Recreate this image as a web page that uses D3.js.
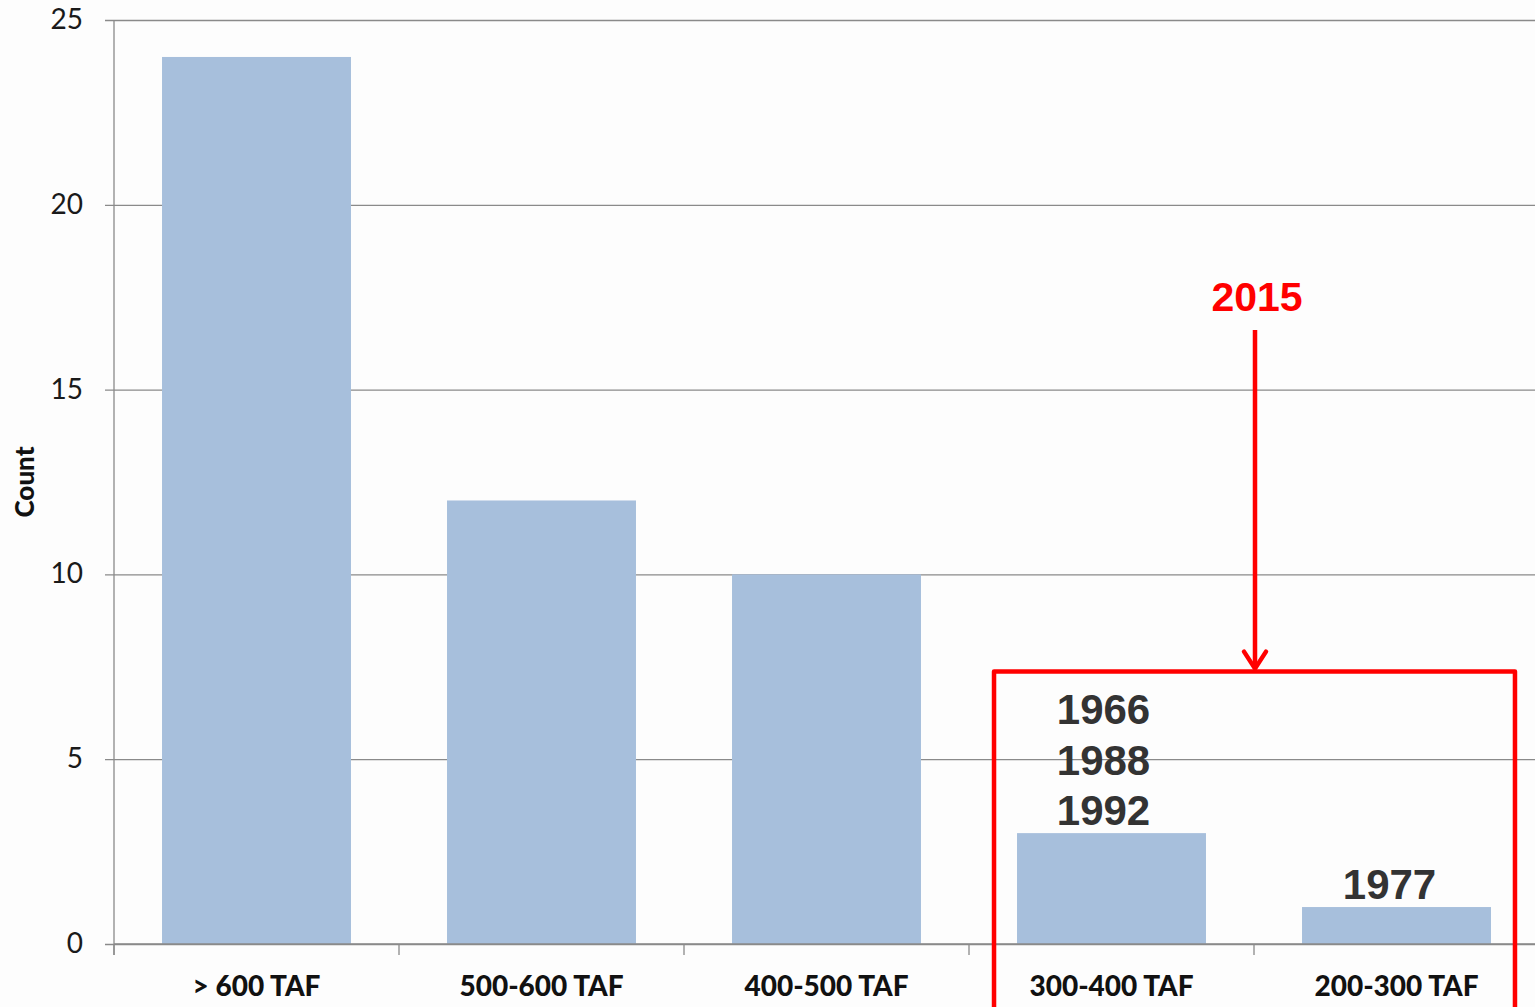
<!DOCTYPE html>
<html>
<head>
<meta charset="utf-8">
<script src="https://cdn.jsdelivr.net/npm/d3@7/dist/d3.min.js"></script>
<style>
  html, body { margin: 0; padding: 0; background: #fdfdfd; }
  svg { display: block; }
</style>
</head>
<body>
<svg id="chart" width="1535" height="1007"></svg>
<script>
// Water-year volume bins and how many years fell in each
const categories = ["> 600 TAF", "500-600 TAF", "400-500 TAF", "300-400 TAF", "200-300 TAF"];
const counts = [24, 12, 10, 3, 1];
const yTicks = [0, 5, 10, 15, 20, 25];
// Years listed above the two driest bins
const yearLabels = [
  { category: "300-400 TAF", years: ["1966", "1988", "1992"], shift: -8 },
  { category: "200-300 TAF", years: ["1977"], shift: -7 }
];
const highlightYear = "2015";

const svg = d3.select("#chart");
const margin = { left: 114, right: -4, top: 20, bottom: 63 };
const W = 1535, H = 1007;

const x = d3.scaleBand()
  .domain(categories)
  .range([margin.left, W - margin.right])
  .paddingInner(0.337)
  .paddingOuter(0.1685);

const y = d3.scaleLinear()
  .domain([0, 25])
  .range([H - margin.bottom, margin.top]);

const fontAxis = "Lato, 'Open Sans', sans-serif";

// Horizontal gridlines with short outside ticks
const yAxis = d3.axisLeft(y)
  .tickValues(yTicks)
  .tickSize(-(W - margin.left))
  .tickSizeOuter(0)
  .tickPadding(31)
  .tickFormat(d3.format("d"));

const gy = svg.append("g")
  .attr("transform", `translate(${margin.left},0)`)
  .call(yAxis);
gy.select(".domain").remove();
gy.selectAll(".tick line")
  .attr("x1", -9)
  .attr("stroke", "#8a8a8a")
  .attr("stroke-width", 1.3);
gy.selectAll(".tick text")
  .attr("x", -31)
  .attr("font-family", fontAxis)
  .attr("font-size", 28)
  .attr("fill", "#1a1a1a")
  .attr("dy", "0.3em");

// Bars
svg.append("g")
  .selectAll("rect")
  .data(categories.map((c, i) => ({ c, v: counts[i] })))
  .join("rect")
  .attr("x", d => x(d.c))
  .attr("y", d => y(d.v))
  .attr("width", x.bandwidth())
  .attr("height", d => y(0) - y(d.v))
  .attr("fill", "#a7bfdc");

// Vertical axis line
svg.append("line")
  .attr("x1", margin.left).attr("x2", margin.left)
  .attr("y1", y(25)).attr("y2", y(0) + 11)
  .attr("stroke", "#8a8a8a").attr("stroke-width", 1.3);

// Category axis with ticks between bins
const step = x.step();
const boundaries = d3.range(categories.length + 1).map(i => margin.left + i * step);
const gx = svg.append("g");
gx.append("line")
  .attr("x1", margin.left).attr("x2", W)
  .attr("y1", y(0)).attr("y2", y(0))
  .attr("stroke", "#8a8a8a").attr("stroke-width", 1.3);
gx.selectAll("line.tk")
  .data(boundaries)
  .join("line")
  .attr("class", "tk")
  .attr("x1", d => d).attr("x2", d => d)
  .attr("y1", y(0)).attr("y2", y(0) + 11)
  .attr("stroke", "#8a8a8a").attr("stroke-width", 1.3);
gx.selectAll("text")
  .data(categories)
  .join("text")
  .attr("x", d => x(d) + x.bandwidth() / 2)
  .attr("y", y(0) + 52)
  .attr("text-anchor", "middle")
  .attr("font-family", fontAxis)
  .attr("font-weight", "900")
  .attr("font-size", 28)
  .attr("fill", "#111")
  .text(d => d);

// Y axis title
svg.append("text")
  .attr("transform", `translate(34,${(y(0) + y(25)) / 2}) rotate(-90)`)
  .attr("text-anchor", "middle")
  .attr("font-family", fontAxis)
  .attr("font-weight", "900")
  .attr("font-size", 26)
  .attr("fill", "#111")
  .text("Count");

// Year labels stacked above bars
const yearFont = "'Liberation Sans', Arial, sans-serif";
const lineGap = 50.5;
yearLabels.forEach(g => {
  const v = counts[categories.indexOf(g.category)];
  const n = g.years.length;
  svg.append("g")
    .selectAll("text")
    .data(g.years)
    .join("text")
    .attr("x", x(g.category) + x.bandwidth() / 2 + g.shift)
    .attr("y", (d, i) => y(v) - 8 - (n - 1 - i) * lineGap)
    .attr("text-anchor", "middle")
    .attr("font-family", yearFont)
    .attr("font-weight", "bold")
    .attr("font-size", 42)
    .attr("fill", "#333333")
    .text(d => d);
});

// Highlight box around the two driest bins, with arrow and label
const red = "#ff0000";
const boxLeft = x("300-400 TAF") - 23;
const boxRight = x("200-300 TAF") + x.bandwidth() + 24;
const boxTop = y(7.37);
svg.append("path")
  .attr("d", `M${boxLeft},${H + 5} L${boxLeft},${boxTop} L${boxRight},${boxTop} L${boxRight},${H + 5}`)
  .attr("fill", "none")
  .attr("stroke", red)
  .attr("stroke-width", 4.5)
  .attr("stroke-linejoin", "round");

const arrowX = boundaries[4] + 1;
svg.append("line")
  .attr("x1", arrowX).attr("x2", arrowX)
  .attr("y1", 330).attr("y2", boxTop - 3)
  .attr("stroke", red).attr("stroke-width", 4.5);
svg.append("path")
  .attr("d", `M${arrowX - 11},${boxTop - 20} L${arrowX},${boxTop - 3} L${arrowX + 11},${boxTop - 20}`)
  .attr("fill", "none")
  .attr("stroke", red)
  .attr("stroke-width", 4.5)
  .attr("stroke-linecap", "round")
  .attr("stroke-linejoin", "round");

svg.append("text")
  .attr("x", arrowX + 2)
  .attr("y", 311)
  .attr("text-anchor", "middle")
  .attr("font-family", yearFont)
  .attr("font-weight", "bold")
  .attr("font-size", 41)
  .attr("fill", red)
  .text(highlightYear);
</script>
</body>
</html>
